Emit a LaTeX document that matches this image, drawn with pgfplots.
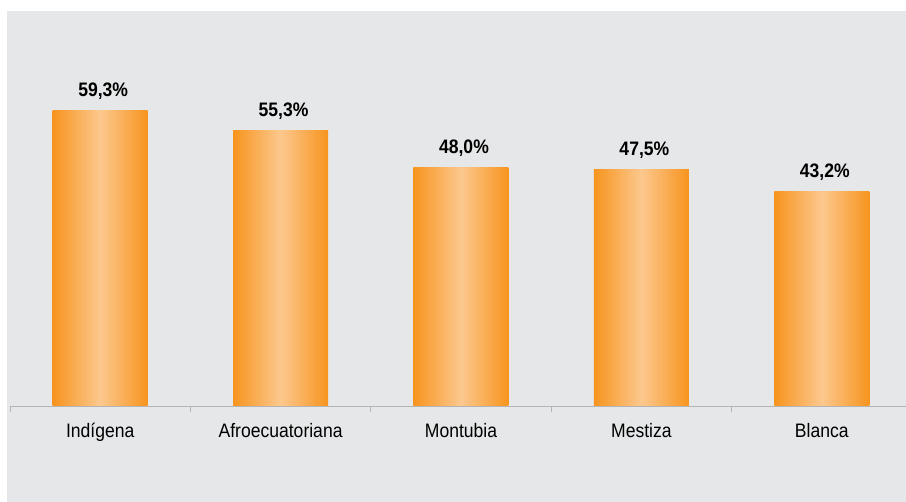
\documentclass[border=0pt]{standalone}
\usepackage{pgfplots}
\pgfplotsset{compat=1.18}
\usepackage{fontspec}
\setmainfont{Liberation Sans}[FakeStretch=0.9]
\definecolor{bg}{HTML}{E6E7E8}
\definecolor{org}{HTML}{F7941E}
\definecolor{lorg}{HTML}{FCC88E}
\definecolor{axl}{HTML}{B4B4B4}
\begin{document}
\begin{tikzpicture}
\useasboundingbox (-10bp,-96bp) rectangle (896bp,406bp);
\fill[bg] (-3bp,-96bp) rectangle (896bp,395bp);
\begin{axis}[
  at={(0,0)}, anchor=south west,
  scale only axis,
  width=896bp, height=395bp,
  xmin=-0.5, xmax=4.467, ymin=0, ymax=79.38,
  axis y line=none,
  axis x line*=bottom,
  x axis line style={draw=axl, line width=0.8bp, -},
  xtick={0,1,2,3,4},
  xticklabels={Indígena,Afroecuatoriana,Montubia,Mestiza,Blanca},
  major tick length=0pt,
  minor xtick={-0.5,0.5,1.5,2.5,3.5},
  minor tick length=6bp,
  tick align=outside,
  minor tick style={draw=axl, line width=0.8bp},
  xticklabel style={font=\fontsize{19.5bp}{22bp}\selectfont, anchor=base, yshift=-31bp, inner sep=0pt},
  ybar, bar width=95bp, bar shift=0pt,
  point meta=explicit symbolic,
  nodes near coords,
  every node near coord/.append style={font=\bfseries\fontsize{19.5bp}{22bp}\selectfont, anchor=base, yshift=14bp, xshift=3bp, inner sep=0pt, text=black},
  barstyle/.style={draw=none, left color=org, right color=org, middle color=lorg},
]
\addplot[barstyle] coordinates {(0,59.3) [59,3\%]};
\addplot[barstyle] coordinates {(1,55.3) [55,3\%]};
\addplot[barstyle] coordinates {(2,48.0) [48,0\%]};
\addplot[barstyle] coordinates {(3,47.5) [47,5\%]};
\addplot[barstyle] coordinates {(4,43.2) [43,2\%]};
\end{axis}
\end{tikzpicture}
\end{document}
